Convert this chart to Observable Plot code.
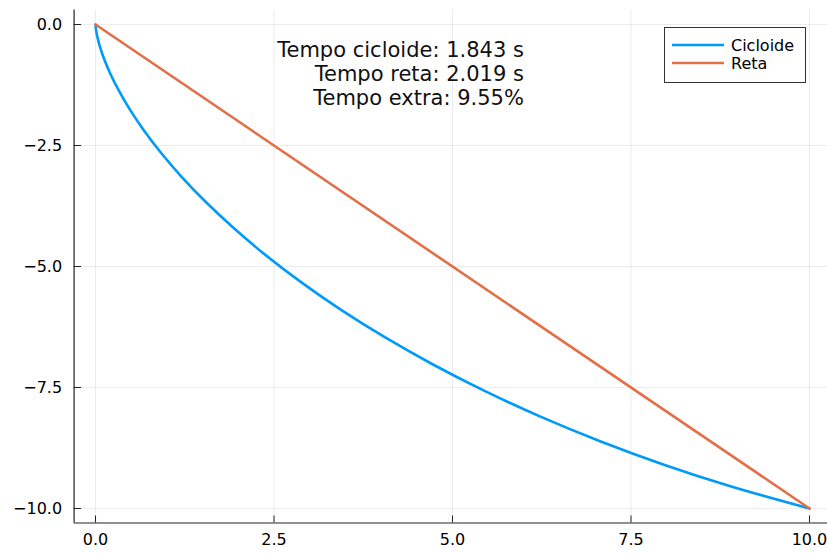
<!DOCTYPE html>
<html>
<head>
<meta charset="utf-8">
<script src="https://cdn.jsdelivr.net/npm/d3@7"></script>
<script src="https://cdn.jsdelivr.net/npm/@observablehq/plot@0.6"></script>
<style>
  html, body { margin: 0; padding: 0; background: #fff; overflow: hidden; }
</style>
</head>
<body>
<div id="chart"></div>
<script>
// ---- data ----
const xTicks = [0, 2.5, 5, 7.5, 10];
const yTicks = [0, -2.5, -5, -7.5, -10];
const seriesNames = ["Cicloide", "Reta"];
const seriesColors = ["#009AFA", "#E26F46"];

const cicloideX = [0, 0.0001, 0.001, 0.0076, 0.0257, 0.0606, 0.1179, 0.2025, 0.3195, 0.4734, 0.6684, 0.9081,
  1.1961, 1.535, 1.9273, 2.3748, 2.8786, 3.4395, 4.0577, 4.7326, 5.4633, 6.2481, 7.085, 7.9712, 8.9038, 10];
const cicloideY = [0, -0.0072, -0.0286, -0.1142, -0.2559, -0.4522, -0.7013, -1.0006, -1.3471, -1.7374, -2.1676, -2.6334,
  -3.1301, -3.6527, -4.1961, -4.7548, -5.3233, -5.8958, -6.4666, -7.03, -7.5804, -8.1124, -8.6205, -9.0997, -9.5453, -10];
const retaX = [0, 10];
const retaY = [0, -10];

const notes = ["Tempo cicloide: 1.843 s", "Tempo reta: 2.019 s", "Tempo extra: 9.55%"];
const noteX = 6, noteY = -1;

// ---- build ----
const cicloide = cicloideX.map((x, i) => ({x, y: cicloideY[i]}));
const reta = retaX.map((x, i) => ({x, y: retaY[i]}));

const W = 827, H = 553;
const mL = 73.6, mR = -3.4, mT = 9.5, mB = 30.5;
const fmt = d3.format(".1f");

const plot = Plot.plot({
  width: W, height: H,
  marginLeft: mL, marginRight: mR, marginTop: mT, marginBottom: mB,
  x: {domain: [-0.3, 10.3], label: null},
  y: {domain: [-10.3, 0.3], label: null},
  style: {fontFamily: "DejaVu Sans", fontSize: "16px", color: "#000", background: "#fff"},
  marks: [
    Plot.gridX(xTicks, {stroke: "#000", strokeOpacity: 0.08, strokeWidth: 1}),
    Plot.gridY(yTicks, {stroke: "#000", strokeOpacity: 0.08, strokeWidth: 1}),
    Plot.axisX(xTicks, {tickSize: 0, tickPadding: 11, tickFormat: fmt, fontSize: 16, fill: "#000", label: null}),
    Plot.axisY(yTicks, {tickSize: 0, tickPadding: 12, tickFormat: fmt, fontSize: 16, fill: "#000", label: null}),
    Plot.tickX(xTicks, {x: d => d, insetTop: H - mT - mB - 7, stroke: "#222", strokeWidth: 1}),
    Plot.tickY(yTicks, {y: d => d, insetRight: (W - mR - mL) - 7.5, stroke: "#222", strokeWidth: 1}),
    Plot.ruleX([-0.3], {stroke: "#222", strokeWidth: 1.2}),
    Plot.ruleY([-10.3], {stroke: "#222", strokeWidth: 1.2}),
    Plot.line(cicloide, {x: "x", y: "y", stroke: seriesColors[0], strokeWidth: 2.6, curve: "catmull-rom"}),
    Plot.line(reta, {x: "x", y: "y", stroke: seriesColors[1], strokeWidth: 2.6}),
    Plot.text([notes.join("\n")], {x: () => noteX, y: () => noteY, textAnchor: "end", lineAnchor: "middle",
      fontSize: 21, lineHeight: 1.14, fill: "#111"})
  ]
});

// legend (inside the svg, top right)
const svg = d3.select(plot);
const lg = svg.append("g").attr("font-family", "DejaVu Sans").attr("font-size", 16).attr("text-anchor", "start");
lg.append("rect").attr("x", 664.5).attr("y", 27.5).attr("width", 141).attr("height", 55)
  .attr("fill", "#fff").attr("stroke", "#333").attr("stroke-width", 1);
seriesNames.forEach((name, i) => {
  const cy = 45 + i * 18;
  lg.append("line").attr("x1", 672).attr("x2", 724).attr("y1", cy).attr("y2", cy)
    .attr("stroke", seriesColors[i]).attr("stroke-width", 2.6);
  lg.append("text").attr("x", 731).attr("y", cy).attr("dy", "0.35em").attr("fill", "#000")
    .attr("text-anchor", "start").text(name);
});

document.getElementById("chart").appendChild(plot);
</script>
</body>
</html>
